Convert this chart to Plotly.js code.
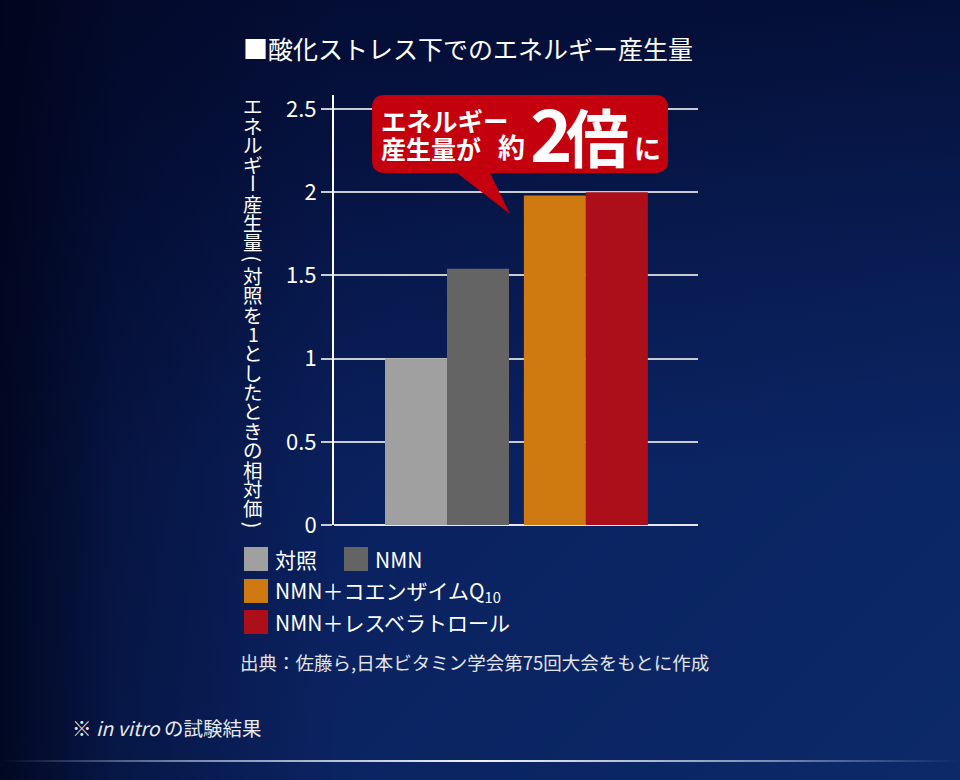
<!DOCTYPE html>
<html>
<head>
<meta charset="utf-8">
<script src="https://cdn.plot.ly/plotly-3.0.1.min.js"></script>
<style>
html,body{margin:0;padding:0;}
body{width:960px;height:780px;overflow:hidden;
background:
 linear-gradient(to right, rgba(0,4,25,0.85) 0%, rgba(0,4,25,0.35) 12%, rgba(0,4,25,0) 35%),
 linear-gradient(to bottom, rgba(2,8,40,0.7) 0%, rgba(2,8,40,0.25) 35%, rgba(2,8,40,0) 60%),
 linear-gradient(135deg, #06154a 0%, #0a2260 55%, #0c2968 100%);}
#chart{position:absolute;left:0;top:0;width:960px;height:780px;}
#rule{position:absolute;left:0;top:760px;width:960px;height:2px;
background:linear-gradient(to right, rgba(255,255,255,0) 0%, rgba(200,210,235,0.6) 20%, rgba(255,255,255,0.95) 50%, rgba(200,210,235,0.6) 80%, rgba(255,255,255,0) 100%);}
</style>
</head>
<body>
<div id="chart"></div>
<div id="rule"></div>
<script>
// ---- data ----
const categories = ["対照", "NMN", "NMN＋コエンザイムQ<sub>10</sub>", "NMN＋レスベラトロール"];
const values = [1.0, 1.54, 1.98, 2.0];
const barColors = ["#a0a0a0", "#656464", "#cf7a10", "#ad0f1a"];
const tickValues = [0, 0.5, 1, 1.5, 2, 2.5];
const tickLabels = ["0", "0.5", "1", "1.5", "2", "2.5"];
const chartTitle = "■酸化ストレス下でのエネルギー産生量";
const yTitle = "エネルギー産生量(対照を1としたときの相対価)";
const sourceNote = "出典：佐藤ら,日本ビタミン学会第75回大会をもとに作成";
const footNote = "※ <i>in vitro</i> の試験結果";
const calloutLines = ["エネルギー", "産生量が"];

// ---- geometry helpers (pixel -> paper) ----
const W = 960, H = 780, L = 334, R = 698, T = 95, B = 525;
const px = x => (x - L) / (R - L);
const py = y => (B - y) / (B - T);
const FONT = "Noto Sans CJK JP, Noto Sans, sans-serif";

// bar positions: two groups with a small gap between them
const xpos = values.map((v, i) => i + (i >= 2 ? 0.24 : 0));
const unitPx = 62;
const xmin = -0.5 - (385 - L) / unitPx;
const xmax = xmin + (R - L) / unitPx;

const traces = [{
  type: "bar",
  x: xpos,
  y: values,
  width: 1,
  marker: {color: barColors, line: {width: 0}},
  hoverinfo: "none",
  showlegend: false
}];

const annotations = [];
const shapes = [];

// title
annotations.push({xref:"paper", yref:"paper", x: px(241), y: py(48), xanchor:"left", yanchor:"middle",
  text: chartTitle, showarrow:false, font:{family:FONT, size:25, color:"#ffffff"}});

// vertical y-axis title, one glyph per annotation
(function(){
  let c = 106;
  const chars = Array.from(yTitle);
  const isParen = ch => ch === "(" || ch === ")";
  chars.forEach((ch, i) => {
    const paren = isParen(ch);
    if (i > 0) {
      c += (isParen(chars[i-1]) ? 7 : 9.7) + (paren ? 7 : 9.7);
    }
    annotations.push({xref:"paper", yref:"paper", x: px(253), y: py(c), xanchor:"center", yanchor:"middle",
      text: ch, showarrow:false, textangle: (ch === "ー" || paren) ? 90 : 0,
      font:{family:FONT, size:19.5, color:"#ffffff"}});
  });
})();

// callout bubble
(function(){
  const x0 = 372, x1 = 668, y0 = 95, y1 = 173, r = 13;
  const P = (x, y) => px(x).toFixed(5) + "," + py(y).toFixed(5);
  const path = "M" + P(x0 + r, y0) + " L" + P(x1 - r, y0) + " Q" + P(x1, y0) + " " + P(x1, y0 + r) +
    " L" + P(x1, y1 - r) + " Q" + P(x1, y1) + " " + P(x1 - r, y1) +
    " L" + P(490, y1) + " L" + P(510, 214) + " L" + P(457, y1) +
    " L" + P(x0 + r, y1) + " Q" + P(x0, y1) + " " + P(x0, y1 - r) +
    " L" + P(x0, y0 + r) + " Q" + P(x0, y0) + " " + P(x0 + r, y0) + " Z";
  shapes.push({type:"path", xref:"paper", yref:"paper", path: path,
    fillcolor:"#c4000e", line:{width:0}, layer:"above"});
})();
annotations.push({xref:"paper", yref:"paper", x: px(379), y: py(119), xanchor:"left", yanchor:"middle",
  text: calloutLines[0], showarrow:false, font:{family:FONT, size:25.5, weight:700, color:"#ffffff"}});
annotations.push({xref:"paper", yref:"paper", x: px(379), y: py(148), xanchor:"left", yanchor:"middle",
  text: calloutLines[1], showarrow:false, font:{family:FONT, size:25, weight:700, color:"#ffffff"}});
annotations.push({xref:"paper", yref:"paper", x: px(496), y: py(146), xanchor:"left", yanchor:"middle",
  text: "約", showarrow:false, font:{family:FONT, size:27, weight:700, color:"#ffffff"}});
annotations.push({xref:"paper", yref:"paper", x: px(528), y: py(130), xanchor:"left", yanchor:"middle",
  text: "2", showarrow:false, font:{family:"Liberation Sans Narrow, Noto Sans CJK JP", size:72, weight:700, color:"#ffffff"}});
annotations.push({xref:"paper", yref:"paper", x: px(564), y: py(134), xanchor:"left", yanchor:"middle",
  text: "倍", showarrow:false, font:{family:FONT, size:63, weight:700, color:"#ffffff"}});
annotations.push({xref:"paper", yref:"paper", x: px(632), y: py(147), xanchor:"left", yanchor:"middle",
  text: "に", showarrow:false, font:{family:FONT, size:27, weight:700, color:"#ffffff"}});

// custom legend
const legendPos = [[244, 559], [344, 559], [244, 591], [244, 622]];
categories.forEach((name, i) => {
  const [lx, ly] = legendPos[i];
  shapes.push({type:"rect", xref:"paper", yref:"paper", x0: px(lx), x1: px(lx + 24), y0: py(ly - 12), y1: py(ly + 12),
    fillcolor: barColors[i], line:{width:0}});
  annotations.push({xref:"paper", yref:"paper", x: px(lx + 29), y: py(ly), xanchor:"left", yanchor:"middle",
    text: name, showarrow:false, font:{family:FONT, size:21, color:"#ffffff"}});
});

// source and footnote
annotations.push({xref:"paper", yref:"paper", x: px(238), y: py(662), xanchor:"left", yanchor:"middle",
  text: sourceNote, showarrow:false, font:{family:FONT, size:18.5, color:"#e2e4ea"}});
annotations.push({xref:"paper", yref:"paper", x: px(70), y: py(728), xanchor:"left", yanchor:"middle",
  text: footNote, showarrow:false, font:{family:FONT, size:19.5, color:"#e8eaf0"}});

const layout = {
  width: W, height: H,
  margin: {l: L, r: W - R, t: T, b: H - B, pad: 0},
  paper_bgcolor: "rgba(0,0,0,0)",
  plot_bgcolor: "rgba(0,0,0,0)",
  showlegend: false,
  xaxis: {range: [xmin, xmax], visible: false, fixedrange: true},
  yaxis: {range: [0, (B - T) / ((B - 109) / 2.5)], tickvals: tickValues, ticktext: tickLabels,
    showgrid: true, gridcolor: "#c9cbd2", gridwidth: 2,
    zeroline: true, zerolinecolor: "#e6e7ea", zerolinewidth: 2.5,
    showline: true, linecolor: "#ffffff", linewidth: 2,
    ticks: "outside", ticklen: 11, tickwidth: 2, tickcolor: "#c9cbd2",
    tickfont: {family: FONT, size: 22, color: "#ffffff"}, fixedrange: true},
  annotations: annotations,
  shapes: shapes,
  font: {family: FONT, color: "#ffffff"}
};

Plotly.newPlot("chart", traces, layout, {staticPlot: true, displayModeBar: false});
</script>
</body>
</html>
